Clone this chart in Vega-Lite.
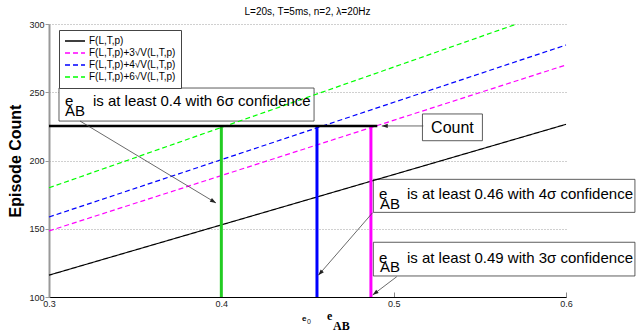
{
  "$schema": "https://vega.github.io/schema/vega-lite/v6.json",
  "width": 517,
  "height": 273,
  "autosize": "none",
  "padding": {"left": 49, "top": 24, "right": 72, "bottom": 37},
  "background": "white",
  "title": {"text": "L=20s, T=5ms, n=2, λ=20Hz", "fontSize": 10, "font": "Liberation Sans", "fontWeight": "normal", "color": "#000", "offset": 3, "anchor": "middle"},
  "config": {
    "view": {"stroke": null},
    "legend": {
      "orient": "none", "legendX": 10, "legendY": 6,
      "strokeColor": "#444", "fillColor": "white", "padding": 5,
      "symbolType": "stroke", "symbolSize": 400, "symbolStrokeWidth": 1.3,
      "labelFontSize": 10, "labelFont": "Liberation Sans", "labelColor": "#000",
      "labelOffset": 3, "rowPadding": 0, "clipHeight": 12
    }
  },
  "datasets": {
    "curves": [
      {"series": "F(L,T,p)", "e": 0.3, "count": 116},
      {"series": "F(L,T,p)", "e": 0.6, "count": 226.5},
      {"series": "F(L,T,p)+3√V(L,T,p)", "e": 0.3, "count": 148.4},
      {"series": "F(L,T,p)+3√V(L,T,p)", "e": 0.6, "count": 270},
      {"series": "F(L,T,p)+4√V(L,T,p)", "e": 0.3, "count": 158.6},
      {"series": "F(L,T,p)+4√V(L,T,p)", "e": 0.6, "count": 284.6},
      {"series": "F(L,T,p)+6√V(L,T,p)", "e": 0.3, "count": 180},
      {"series": "F(L,T,p)+6√V(L,T,p)", "e": 0.5714, "count": 300}
    ],
    "verticals": [
      {"sigma": 6, "e": 0.4, "count": 100, "count2": 225.3},
      {"sigma": 4, "e": 0.4555, "count": 100, "count2": 225.3},
      {"sigma": 3, "e": 0.4868, "count": 100, "count2": 225.3}
    ],
    "countline": [{"e": 0.3, "e2": 0.4905, "count": 225.3}],
    "boxes": [
      {"box": "6σ", "e": 0.3058, "e2": 0.4538, "count": 253.1, "count2": 228.9},
      {"box": "Count", "e": 0.5167, "e2": 0.5515, "count": 234.1, "count2": 214.5},
      {"box": "4σ", "e": 0.4882, "e2": 0.64, "count": 186.2, "count2": 162.0},
      {"box": "3σ", "e": 0.4882, "e2": 0.64, "count": 140.1, "count2": 115.4}
    ],
    "arrows": [
      {"arrow": "6σ", "e": 0.318, "count": 228.9, "e2": 0.3969, "count2": 168.9},
      {"arrow": "4σ", "e": 0.4878, "count": 161.8, "e2": 0.4563, "count2": 115.9},
      {"arrow": "3σ", "e": 0.5018, "count": 114.9, "e2": 0.4878, "count2": 101.5},
      {"arrow": "Count", "e": 0.5172, "count": 225.3, "e2": 0.4931, "count2": 225.3}
    ],
    "labels": [
      {"kind": "box", "text": "e", "e": 0.3093, "count": 239.6},
      {"kind": "box", "text": "AB", "e": 0.3093, "count": 232.3},
      {"kind": "box", "text": "is at least 0.4 with 6σ confidence", "e": 0.3255, "count": 239.6},
      {"kind": "box", "text": "e", "e": 0.4915, "count": 171.6},
      {"kind": "box", "text": "AB", "e": 0.4921, "count": 164.7},
      {"kind": "box", "text": "is at least 0.46 with 4σ confidence", "e": 0.5077, "count": 171.6},
      {"kind": "box", "text": "e", "e": 0.4915, "count": 124.9},
      {"kind": "box", "text": "AB", "e": 0.4921, "count": 118.3},
      {"kind": "box", "text": "is at least 0.49 with 3σ confidence", "e": 0.5077, "count": 124.9},
      {"kind": "count", "text": "Count", "e": 0.5341, "count": 219.9},
      {"kind": "axis", "text": "e", "e": 0.4613, "count": 83.2},
      {"kind": "axis", "text": "AB", "e": 0.4648, "count": 75.5},
      {"kind": "e0", "text": "e", "e": 0.4468, "count": 82.4},
      {"kind": "e0sub", "text": "0", "e": 0.4497, "count": 80.2}
    ]
  },
  "layer": [
    {
      "data": {"name": "boxes"},
      "mark": {"type": "rect", "fill": "white", "stroke": "#333", "strokeWidth": 0.8},
      "encoding": {
        "x": {"field": "e", "type": "quantitative", "scale": {"domain": [0.3, 0.6], "nice": false, "zero": false},
          "axis": {"values": [0.3, 0.4, 0.5, 0.6], "format": ".1f", "grid": false, "domainColor": "#000", "domainWidth": 1, "tickSize": -5, "tickColor": "#888", "labelFontSize": 9, "labelFont": "Liberation Sans", "labelColor": "#222", "labelPadding": 7, "labelFlush": false, "title": null}},
        "x2": {"field": "e2"},
        "y": {"field": "count", "type": "quantitative", "scale": {"domain": [100, 300], "nice": false, "zero": false},
          "axis": {"values": [100, 150, 200, 250, 300], "grid": true, "gridDash": [1, 2], "gridColor": "#888", "gridWidth": 0.8, "domainColor": "#999", "domainWidth": 2, "tickColor": "#999", "tickSize": 4, "labelFontSize": 9, "labelFont": "Liberation Sans", "labelColor": "#222", "labelPadding": 1, "labelFlush": false, "title": "Episode Count", "titleFontSize": 16, "titleFont": "Liberation Sans", "titleFontWeight": "bold", "titleColor": "#000", "titlePadding": 5}},
        "y2": {"field": "count2"}
      }
    },
    {
      "data": {"name": "curves"},
      "mark": {"type": "line", "strokeWidth": 1.2},
      "encoding": {
        "x": {"field": "e", "type": "quantitative"},
        "y": {"field": "count", "type": "quantitative"},
        "color": {"field": "series", "type": "nominal", "scale": {"domain": ["F(L,T,p)", "F(L,T,p)+3√V(L,T,p)", "F(L,T,p)+4√V(L,T,p)", "F(L,T,p)+6√V(L,T,p)"], "range": ["#000000", "#ff00ff", "#0000ff", "#00ff00"]}, "legend": {"title": null}},
        "strokeDash": {"field": "series", "type": "nominal", "scale": {"domain": ["F(L,T,p)", "F(L,T,p)+3√V(L,T,p)", "F(L,T,p)+4√V(L,T,p)", "F(L,T,p)+6√V(L,T,p)"], "range": [[1, 0], [5, 3], [5, 3], [5, 3]]}, "legend": {"title": null}}
      }
    },
    {
      "data": {"name": "verticals"},
      "transform": [{"filter": "datum.sigma == 6"}],
      "mark": {"type": "rule", "color": "#22cc22", "strokeWidth": 3},
      "encoding": {
        "x": {"field": "e", "type": "quantitative"},
        "y": {"field": "count", "type": "quantitative"},
        "y2": {"field": "count2"}
      }
    },
    {
      "data": {"name": "verticals"},
      "transform": [{"filter": "datum.sigma == 4"}],
      "mark": {"type": "rule", "color": "#0000ff", "strokeWidth": 3},
      "encoding": {
        "x": {"field": "e", "type": "quantitative"},
        "y": {"field": "count", "type": "quantitative"},
        "y2": {"field": "count2"}
      }
    },
    {
      "data": {"name": "verticals"},
      "transform": [{"filter": "datum.sigma == 3"}],
      "mark": {"type": "rule", "color": "#ff00ff", "strokeWidth": 3},
      "encoding": {
        "x": {"field": "e", "type": "quantitative"},
        "y": {"field": "count", "type": "quantitative"},
        "y2": {"field": "count2"}
      }
    },
    {
      "data": {"name": "countline"},
      "mark": {"type": "rule", "color": "#000", "strokeWidth": 2.5},
      "encoding": {
        "x": {"field": "e", "type": "quantitative"},
        "x2": {"field": "e2"},
        "y": {"field": "count", "type": "quantitative"}
      }
    },
    {
      "data": {"name": "arrows"},
      "mark": {"type": "rule", "color": "#444", "strokeWidth": 0.8},
      "encoding": {
        "x": {"field": "e", "type": "quantitative"},
        "x2": {"field": "e2"},
        "y": {"field": "count", "type": "quantitative"},
        "y2": {"field": "count2"}
      }
    },
    {
      "data": {"name": "arrows"},
      "transform": [{"filter": "datum.arrow == '6σ'"}],
      "mark": {"type": "point", "shape": "M0,0L-0.35,1L0.35,1Z", "filled": true, "color": "#222", "size": 144, "angle": 121, "opacity": 1},
      "encoding": {
        "x": {"field": "e2", "type": "quantitative"},
        "y": {"field": "count2", "type": "quantitative"}
      }
    },
    {
      "data": {"name": "arrows"},
      "transform": [{"filter": "datum.arrow == '4σ'"}],
      "mark": {"type": "point", "shape": "M0,0L-0.35,1L0.35,1Z", "filled": true, "color": "#222", "size": 144, "angle": 221, "opacity": 1},
      "encoding": {
        "x": {"field": "e2", "type": "quantitative"},
        "y": {"field": "count2", "type": "quantitative"}
      }
    },
    {
      "data": {"name": "arrows"},
      "transform": [{"filter": "datum.arrow == '3σ'"}],
      "mark": {"type": "point", "shape": "M0,0L-0.35,1L0.35,1Z", "filled": true, "color": "#222", "size": 144, "angle": 233, "opacity": 1},
      "encoding": {
        "x": {"field": "e2", "type": "quantitative"},
        "y": {"field": "count2", "type": "quantitative"}
      }
    },
    {
      "data": {"name": "arrows"},
      "transform": [{"filter": "datum.arrow == 'Count'"}],
      "mark": {"type": "point", "shape": "M0,0L-0.35,1L0.35,1Z", "filled": true, "color": "#222", "size": 144, "angle": 270, "opacity": 1},
      "encoding": {
        "x": {"field": "e2", "type": "quantitative"},
        "y": {"field": "count2", "type": "quantitative"}
      }
    },
    {
      "data": {"name": "labels"},
      "transform": [{"filter": "datum.kind == 'box'"}],
      "mark": {"type": "text", "align": "left", "baseline": "alphabetic", "font": "Liberation Sans", "fontSize": 15, "color": "#000"},
      "encoding": {
        "x": {"field": "e", "type": "quantitative"},
        "y": {"field": "count", "type": "quantitative"},
        "text": {"field": "text"}
      }
    },
    {
      "data": {"name": "labels"},
      "transform": [{"filter": "datum.kind == 'count'"}],
      "mark": {"type": "text", "align": "center", "baseline": "alphabetic", "font": "Liberation Sans", "fontSize": 16, "color": "#000"},
      "encoding": {
        "x": {"field": "e", "type": "quantitative"},
        "y": {"field": "count", "type": "quantitative"},
        "text": {"field": "text"}
      }
    },
    {
      "data": {"name": "labels"},
      "transform": [{"filter": "datum.kind == 'axis'"}],
      "mark": {"type": "text", "align": "left", "baseline": "alphabetic", "font": "Liberation Serif", "fontSize": 12, "fontWeight": "bold", "color": "#000"},
      "encoding": {
        "x": {"field": "e", "type": "quantitative"},
        "y": {"field": "count", "type": "quantitative"},
        "text": {"field": "text"}
      }
    },
    {
      "data": {"name": "labels"},
      "transform": [{"filter": "datum.kind == 'e0'"}],
      "mark": {"type": "text", "align": "left", "baseline": "alphabetic", "font": "Liberation Sans", "fontSize": 8, "fontWeight": "bold", "color": "#000"},
      "encoding": {
        "x": {"field": "e", "type": "quantitative"},
        "y": {"field": "count", "type": "quantitative"},
        "text": {"field": "text"}
      }
    },
    {
      "data": {"name": "labels"},
      "transform": [{"filter": "datum.kind == 'e0sub'"}],
      "mark": {"type": "text", "align": "left", "baseline": "alphabetic", "font": "Liberation Sans", "fontSize": 7, "color": "#222"},
      "encoding": {
        "x": {"field": "e", "type": "quantitative"},
        "y": {"field": "count", "type": "quantitative"},
        "text": {"field": "text"}
      }
    }
  ]
}
